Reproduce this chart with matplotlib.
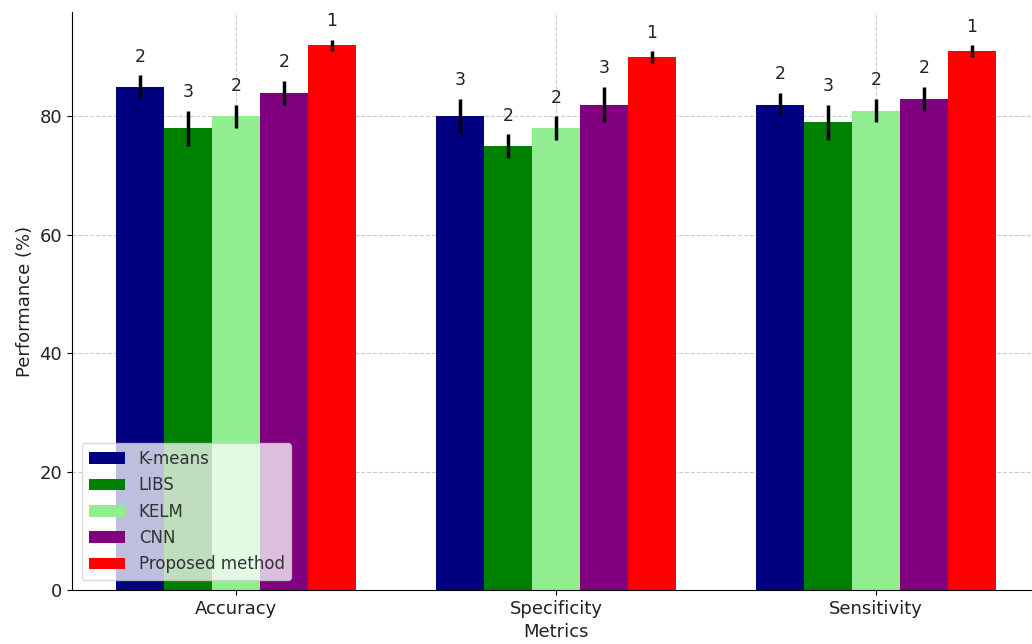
import matplotlib
matplotlib.use("Agg")
import matplotlib.pyplot as plt
import numpy as np

metrics = ["Accuracy", "Specificity", "Sensitivity"]
methods = ["K-means", "LIBS", "KELM", "CNN", "Proposed method"]
colors = ["navy", "green", "lightgreen", "purple", "red"]
values = {
    "K-means": [85, 80, 82],
    "LIBS": [78, 75, 79],
    "KELM": [80, 78, 81],
    "CNN": [84, 82, 83],
    "Proposed method": [92, 90, 91],
}
errors = {
    "K-means": [2, 3, 2],
    "LIBS": [3, 2, 3],
    "KELM": [2, 2, 2],
    "CNN": [2, 3, 2],
    "Proposed method": [1, 1, 1],
}

plt.rcParams['font.family'] = 'DejaVu Sans'
fig = plt.figure(figsize=(10.32, 6.44), dpi=100)
ax = fig.add_axes([72/1032, 54/644, (1040-72)/1032, 578/644])

x = np.arange(len(metrics))
w = 0.15
for i, m in enumerate(methods):
    pos = x + (i - 2) * w
    ax.bar(pos, values[m], w, color=colors[i], label=m,
           yerr=errors[m], error_kw=dict(ecolor='black', elinewidth=2.5, capsize=0))
    for p, v, e in zip(pos, values[m], errors[m]):
        ax.text(p, v + e + 1.6, str(e), ha='center', va='bottom', fontsize=12.5, color='#222222')

ax.set_xticks(x)
ax.set_xticklabels(metrics, fontsize=13, color='#222222')
ax.tick_params(axis='y', labelsize=13, labelcolor='#222222')
ax.set_xlabel("Metrics", fontsize=13, color='#222222', labelpad=4)
ax.set_ylabel("Performance (%)", fontsize=13, color='#222222')
ax.grid(True, linestyle='--', color='#cccccc', linewidth=0.8)
ax.set_axisbelow(True)
ax.spines['top'].set_visible(False)
ax.spines['right'].set_visible(False)
leg = ax.legend(loc='lower left', fontsize=12, framealpha=0.75, labelspacing=0.5,
                handlelength=2.2, borderaxespad=0.6)
for t in leg.get_texts():
    t.set_color('#333333')

fig.savefig("out.png", dpi=100)
